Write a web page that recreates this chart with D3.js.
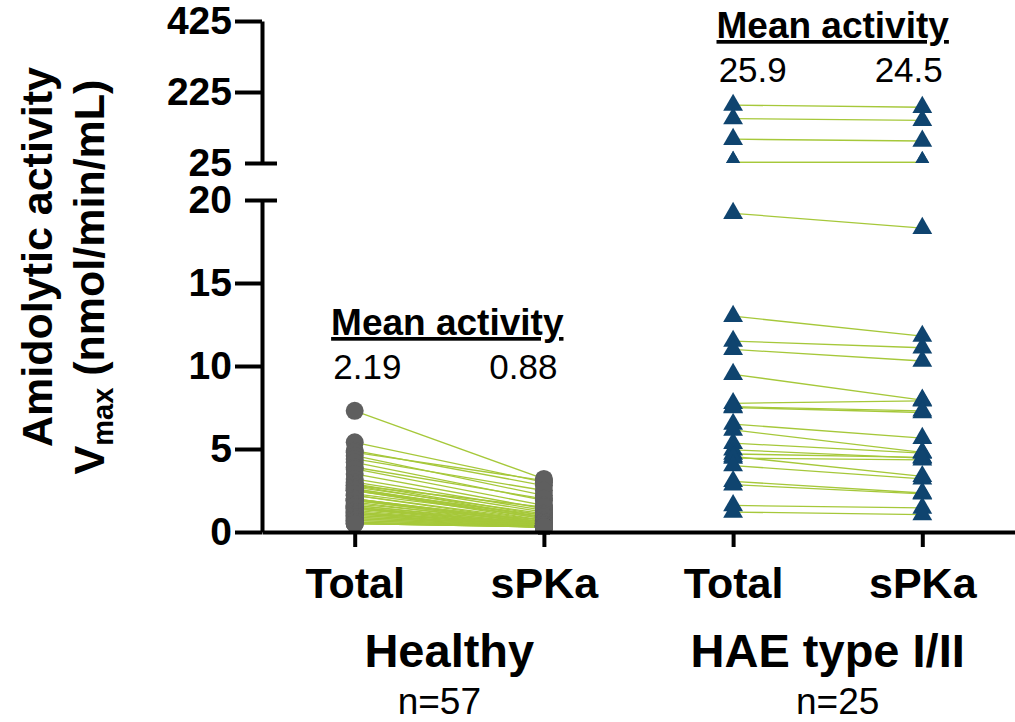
<!DOCTYPE html>
<html>
<head>
<meta charset="utf-8">
<script src="https://cdn.jsdelivr.net/npm/d3@7"></script>
<style>
  body { margin: 0; background: #fff; }
  svg { display: block; font-family: "Liberation Sans", Arial, sans-serif; }
</style>
</head>
<body>
<svg id="chart" width="1015" height="722"></svg>
<script>
// ── data ────────────────────────────────────────────────────────────────
const categories = ['Healthy|Total', 'Healthy|sPKa', 'HAE|Total', 'HAE|sPKa'];
const groups = ['Healthy', 'HAE type I/II'];
const groupN = ['n=57', 'n=25'];
const meanLabels = [['2.19', '0.88'], ['25.9', '24.5']];

const lowTicks = [0, 5, 10, 15, 20];
const highTicks = [25, 225, 425];

// Healthy donors (n=57), paired Total -> sPKa
const healthyTotal = [7.3, 5.4, 4.9, 4.8, 4.6, 4.4, 4.2, 3.9, 3.8, 3.5,
  3.2, 3.0, 2.9, 2.8, 2.8, 2.7, 2.6, 2.5, 2.5, 2.6,
  2.5, 2.2, 2.2, 2.3, 2.0, 2.0, 1.9, 1.9, 2.0, 1.8,
  1.9, 1.7, 1.6, 1.6, 1.5, 1.5, 1.4, 1.4, 1.5, 1.3,
  1.2, 1.2, 1.1, 1.1, 1.0, 1.0, 0.9, 0.9, 0.8, 0.8,
  0.7, 0.7, 0.6, 0.6, 0.5, 0.5, 0.5];
const healthySpka = [3.2, 3.0, 2.8, 3.1, 2.2, 2.5, 1.9, 2.0, 1.6, 1.4,
  1.3, 1.2, 1.0, 1.5, 0.9, 1.1, 0.8, 1.0, 0.7, 0.9,
  0.8, 0.7, 0.6, 0.9, 0.6, 0.5, 0.7, 0.5, 0.6, 0.4,
  0.5, 0.6, 0.4, 0.5, 0.3, 0.4, 0.5, 0.3, 0.4, 0.3,
  0.4, 0.3, 0.5, 0.3, 0.4, 0.3, 0.3, 0.4, 0.3, 0.3,
  0.3, 0.3, 0.3, 0.3, 0.3, 0.3, 0.3];

// HAE type I/II patients (n=25), paired Total -> sPKa
const haeTotal = [188, 150, 92, 27, 27, 19.2, 13.0, 11.5, 11.0, 9.5,
  7.75, 7.55, 7.5, 6.5, 6.15, 5.35, 4.95, 4.7, 4.55, 4.45,
  4.0, 3.05, 2.85, 1.6, 1.2];
const haeSpka = [182, 145, 87, 26.5, 26.5, 18.3, 11.8, 11.1, 10.3, 7.95,
  7.9, 7.3, 7.2, 5.65, 4.8, 4.75, 4.45, 4.5, 3.35, 4.35,
  3.2, 2.35, 2.3, 1.45, 1.05];

// ── styling ─────────────────────────────────────────────────────────────
const LINE_COLOR = '#a6c83a';
const CIRCLE_COLOR = '#5f5f5f';
const TRIANGLE_COLOR = '#0f446f';
const AXIS_W = 4;

// ── scales ──────────────────────────────────────────────────────────────
const svg = d3.select('#chart');

const x = d3.scalePoint().domain(categories).range([262, 1015]).padding(0.49);
const yLow = d3.scaleLinear().domain([0, 20]).range([532, 200]);
const yHigh = d3.scaleLinear().domain([25, 425]).range([163, 21]);

// clip regions for the broken axis
const defs = svg.append('defs');
defs.append('clipPath').attr('id', 'clip-low')
  .append('rect').attr('x', 262).attr('y', 190).attr('width', 760).attr('height', 345);
defs.append('clipPath').attr('id', 'clip-high')
  .append('rect').attr('x', 262).attr('y', 0).attr('width', 760).attr('height', 163);

function pairs(totals, spkas) {
  return totals.map((t, i) => ({ t, s: spkas[i] }));
}
const healthyPairs = pairs(healthyTotal, healthySpka);
const haePairs = pairs(haeTotal, haeSpka);

// ── marks ───────────────────────────────────────────────────────────────
function drawGroup(data, catA, catB, marker) {
  const low = data.filter(d => d.t < 22);
  const high = data.filter(d => d.t >= 22);
  [[low, yLow, 'clip-low'], [high, yHigh, 'clip-high']].forEach(([rows, y, clip]) => {
    if (!rows.length) return;
    const g = svg.append('g').attr('clip-path', `url(#${clip})`);

    g.append('g')
      .selectAll('line')
      .data(rows)
      .join('line')
      .attr('x1', x(catA))
      .attr('x2', x(catB))
      .attr('y1', d => y(d.t))
      .attr('y2', d => y(d.s))
      .attr('stroke', LINE_COLOR)
      .attr('stroke-width', 1.3);

    const pts = rows.flatMap(d => [{ c: catA, v: d.t }, { c: catB, v: d.s }]);
    if (marker === 'circle') {
      g.append('g')
        .selectAll('circle')
        .data(pts)
        .join('circle')
        .attr('cx', d => x(d.c))
        .attr('cy', d => y(d.v))
        .attr('r', 9)
        .attr('fill', CIRCLE_COLOR);
    } else {
      const tri = d3.symbol().type(d3.symbolTriangle).size(170);
      g.append('g')
        .selectAll('path')
        .data(pts)
        .join('path')
        .attr('d', tri)
        .attr('transform', d => `translate(${x(d.c)},${y(d.v)})`)
        .attr('fill', TRIANGLE_COLOR);
    }
  });
}

drawGroup(healthyPairs, categories[0], categories[1], 'circle');
drawGroup(haePairs, categories[2], categories[3], 'triangle');

// ── axes ────────────────────────────────────────────────────────────────
function styleAxis(g) {
  g.selectAll('path.domain').attr('stroke', '#000').attr('stroke-width', AXIS_W);
  g.selectAll('.tick line').attr('stroke', '#000').attr('stroke-width', AXIS_W);
  g.selectAll('.tick text')
    .attr('fill', '#000')
    .attr('font-family', '"Liberation Sans", Arial, sans-serif')
    .attr('font-weight', 'bold');
}

const yAxisLow = svg.append('g')
  .attr('transform', 'translate(262,0)')
  .call(d3.axisLeft(yLow).tickValues(lowTicks).tickSize(27).tickSizeOuter(0).tickPadding(3))
  .call(styleAxis);
yAxisLow.selectAll('.tick text').attr('font-size', 39);

const yAxisHigh = svg.append('g')
  .attr('transform', 'translate(262,0)')
  .call(d3.axisLeft(yHigh).tickValues(highTicks).tickSize(27).tickSizeOuter(0).tickPadding(3))
  .call(styleAxis);
yAxisHigh.selectAll('.tick text').attr('font-size', 39);

// break marks: ticks at the break reach across the axis line
yAxisLow.selectAll('.tick').filter(d => d === 20).select('line').attr('x1', 15).attr('x2', -17);
yAxisHigh.selectAll('.tick').filter(d => d === 25).select('line').attr('x1', 15).attr('x2', -17);

const xAxis = svg.append('g')
  .attr('transform', `translate(0,${yLow(0)})`)
  .call(d3.axisBottom(x).tickSize(15).tickSizeOuter(0).tickPadding(20)
    .tickFormat(d => d.split('|')[1]))
  .call(styleAxis);
xAxis.selectAll('.tick text').attr('font-size', 43);

// ── labels ──────────────────────────────────────────────────────────────
const groupCenters = [
  (x(categories[0]) + x(categories[1])) / 2,
  (x(categories[2]) + x(categories[3])) / 2,
];

svg.append('g')
  .selectAll('text')
  .data(groups)
  .join('text')
  .attr('x', (d, i) => groupCenters[i])
  .attr('y', 667)
  .attr('text-anchor', 'middle')
  .attr('font-size', 47)
  .attr('font-weight', 'bold')
  .text(d => d);

svg.append('g')
  .selectAll('text')
  .data(groupN)
  .join('text')
  .attr('x', (d, i) => groupCenters[i] - 10 + i * 20)
  .attr('y', 714)
  .attr('text-anchor', 'middle')
  .attr('font-size', 37)
  .text(d => d);

// mean activity boxes
const meanBaseline = [335, 38];
const meanShift = [-2, 5];
meanLabels.forEach((vals, i) => {
  const cx = groupCenters[i] + meanShift[i];
  svg.append('text')
    .attr('x', cx)
    .attr('y', meanBaseline[i])
    .attr('text-anchor', 'middle')
    .attr('font-size', 37)
    .attr('font-weight', 'bold')
    .style('text-decoration', 'underline')
    .text('Mean activity');
  svg.append('g')
    .selectAll('text')
    .data(vals)
    .join('text')
    .attr('x', (d, j) => cx + (j === 0 ? -80 : 76))
    .attr('y', meanBaseline[i] + 44)
    .attr('text-anchor', 'middle')
    .attr('font-size', 35)
    .text(d => d);
});

// y-axis title
svg.append('text')
  .attr('transform', 'translate(52,257) rotate(-90)')
  .attr('text-anchor', 'middle')
  .attr('font-size', 43)
  .attr('font-weight', 'bold')
  .text('Amidolytic activity');

const title2 = svg.append('text')
  .attr('transform', 'translate(104,277) rotate(-90)')
  .attr('text-anchor', 'middle')
  .attr('font-size', 43)
  .attr('font-weight', 'bold');
title2.append('tspan').text('V');
title2.append('tspan').attr('font-size', 29).attr('dy', 9).text('max');
title2.append('tspan').attr('dy', -9).text(' (nmol/min/mL)');
</script>
</body>
</html>
